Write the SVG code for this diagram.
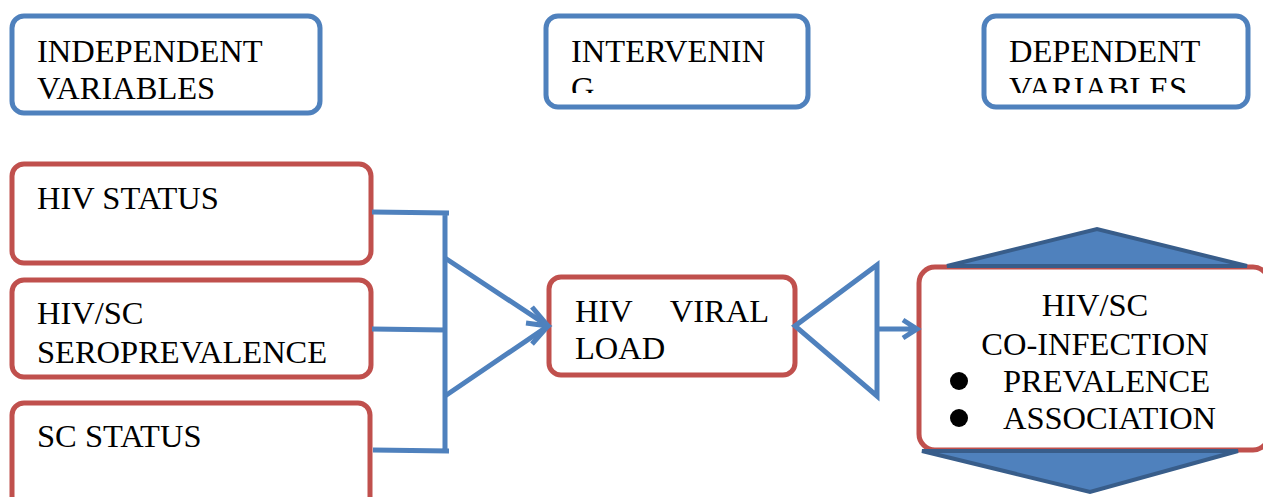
<svg xmlns="http://www.w3.org/2000/svg" width="1263" height="497" viewBox="0 0 1263 497">
<style>
.hdr{fill:#fff;stroke:#4F81BD;stroke-width:5}
.var{fill:#fff;stroke:#C0504D;stroke-width:5}
.t{font-family:"Liberation Serif","Times New Roman",serif;font-size:32.5px;fill:#000}
.c{fill:none;stroke:#4F81BD;stroke-width:5;stroke-linecap:butt;stroke-linejoin:miter}
.hex{fill:#4F81BD;stroke:#385D8A;stroke-width:4;stroke-linejoin:miter}
</style>
<defs>
<clipPath id="clipInt"><rect x="545" y="15" width="263" height="78"/></clipPath>
<clipPath id="clipDep"><rect x="983" y="15" width="265" height="78"/></clipPath>
</defs>
<rect width="1263" height="497" fill="#fff"/>
<g id="independent">
<rect class="hdr" x="12" y="16" width="308" height="97" rx="12"/>
<text class="t" x="37" y="62">INDEPENDENT</text>
<text class="t" x="37" y="99">VARIABLES</text>
</g>
<g id="intervening">
<rect class="hdr" x="546" y="16" width="262" height="91" rx="12"/>
<g clip-path="url(#clipInt)">
<text class="t" x="571" y="62">INTERVENIN</text>
<text class="t" x="571" y="99">G</text>
</g>
</g>
<g id="dependent">
<rect class="hdr" x="984" y="16" width="264" height="91" rx="12"/>
<g clip-path="url(#clipDep)">
<text class="t" x="1009" y="62">DEPENDENT</text>
<text class="t" x="1009" y="99">VARIABLES</text>
</g>
</g>
<g id="hiv-status">
<rect class="var" x="12" y="164" width="359" height="99" rx="12"/>
<text class="t" x="37" y="209">HIV STATUS</text>
</g>
<g id="seroprevalence">
<rect class="var" x="12" y="280" width="359" height="97" rx="12"/>
<text class="t" x="37" y="324">HIV/SC</text>
<text class="t" x="37" y="363">SEROPREVALENCE</text>
</g>
<g id="sc-status">
<rect class="var" x="12" y="403" width="358" height="110" rx="12"/>
<text class="t" x="37" y="447">SC STATUS</text>
</g>
<g id="viral-load">
<rect class="var" x="549" y="277" width="246" height="98" rx="12"/>
<text class="t" x="575" y="322">HIV</text>
<text class="t" x="769" y="322" text-anchor="end">VIRAL</text>
<text class="t" x="575" y="359">LOAD</text>
</g>
<g id="coinfection">
<rect class="var" x="919" y="267" width="350" height="183" rx="16"/>
<polygon class="hex" points="947,266 1097,229 1247,266"/>
<polygon class="hex" points="922,451 1090,492 1238,451"/>
<text class="t" x="1095" y="316" text-anchor="middle">HIV/SC</text>
<text class="t" x="1095" y="355" text-anchor="middle">CO-INFECTION</text>
<circle cx="959" cy="381" r="9" fill="#000"/>
<text class="t" x="1003" y="392">PREVALENCE</text>
<circle cx="959" cy="418" r="9" fill="#000"/>
<text class="t" x="1003" y="429">ASSOCIATION</text>
</g>
<g id="connectors">
<path class="c" d="M372,212 L449,213 M372,329 L445,330 M373,450 L449,451 M445,213 L445,453"/>
<path class="c" d="M445,258 L548,326 L445,396"/>
<path class="c" d="M532,307 L548,326 L532,344 M526,323 L548,326"/>
<path class="c" d="M877,265 L795,326 L877,396 Z"/>
<path class="c" d="M877,329 L917,329 M903,320 L917,329 L903,338"/>
</g>
</svg>
